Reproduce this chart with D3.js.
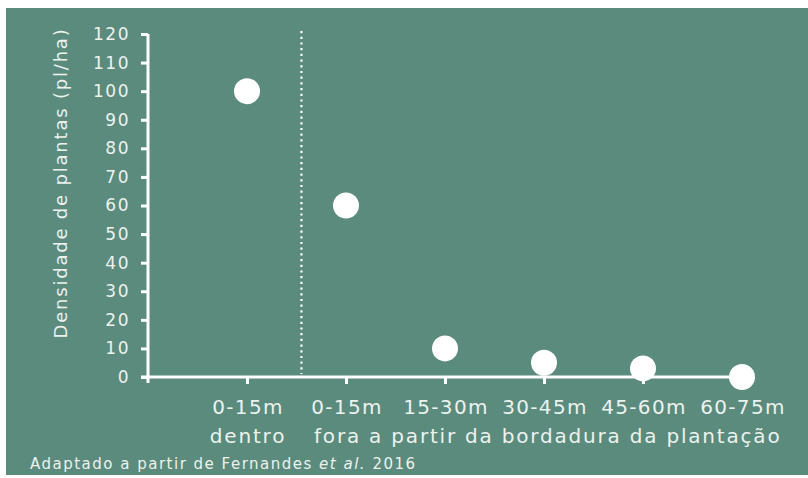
<!DOCTYPE html>
<html><head><meta charset="utf-8">
<script src="https://cdn.jsdelivr.net/npm/d3@7"></script>
<style>
html,body{margin:0;padding:0;background:#fff;}
svg{display:block;}
text{font-family:"DejaVu Sans",sans-serif;fill:#edf2ee;}
</style></head>
<body>
<script>
const categories = ["0-15m","0-15m","15-30m","30-45m","45-60m","60-75m"];
const values = [100, 60, 10, 5, 3, 0];
const yTicks = [0,10,20,30,40,50,60,70,80,90,100,110,120];
const subLabels = ["dentro", "fora a partir da bordadura da plantação"];
const dividerPos = 1.55;
const yTitle = "Densidade de plantas (pl/ha)";

const W = 808, H = 478;
const svg = d3.select("body").append("svg").attr("width", W).attr("height", H);
svg.append("rect").attr("x",6).attr("y",8).attr("width",W-6).attr("height",467).attr("fill","#5a8b7d");

const x = d3.scaleLinear().domain([0, categories.length]).range([148, 742]);
const y = d3.scaleLinear().domain([0, 120]).range([377, 34]);

// y axis
const yAxis = svg.append("g").attr("transform","translate(148,0)")
  .call(d3.axisLeft(y).tickValues(yTicks).tickSize(7).tickPadding(12));
yAxis.select(".domain").attr("stroke","#fff").attr("stroke-width",3).attr("d", `M0,${y(120)}V${y(0)+6}`);
yAxis.selectAll(".tick line").attr("stroke","#fff").attr("stroke-width",3);
yAxis.selectAll(".tick text").attr("font-size",17).attr("font-family","DejaVu Sans")
  .attr("letter-spacing",1.5).attr("dx",1).attr("fill","#edf2ee");

// x axis
const xAxis = svg.append("g").attr("transform",`translate(0,${y(0)})`)
  .call(d3.axisBottom(x).tickValues(d3.range(1, categories.length+1)).tickSize(7).tickFormat(""));
xAxis.select(".domain").attr("stroke","#fff").attr("stroke-width",3).attr("d", `M${148-7},0H${x(categories.length)}`);
xAxis.selectAll(".tick line").attr("stroke","#fff").attr("stroke-width",3);

// category labels
svg.selectAll("text.cat").data(categories).join("text").attr("class","cat")
  .attr("x",(d,i)=>x(i+1)+1).attr("y",414).attr("text-anchor","middle")
  .attr("font-size",20).attr("letter-spacing",1.3).text(d=>d);

svg.append("text").attr("x",x(1)+1).attr("y",443).attr("text-anchor","middle").attr("font-size",20)
  .attr("letter-spacing",1.8).text(subLabels[0]);
svg.append("text").attr("x",x(2)-32).attr("y",443).attr("text-anchor","start").attr("font-size",20)
  .attr("letter-spacing",1.8).text(subLabels[1]);

// divider
svg.append("line").attr("x1",x(dividerPos)).attr("x2",x(dividerPos)).attr("y1",31).attr("y2",y(0)-3)
  .attr("stroke","#fff").attr("stroke-width",2.2).attr("stroke-dasharray","2.2,3.5");

// points
svg.selectAll("circle.pt").data(values).join("circle").attr("class","pt")
  .attr("cx",(d,i)=>x(i+1)).attr("cy",d=>y(d)).attr("r",13).attr("fill","#fff");

// y title
svg.append("text").attr("transform",`translate(67,183) rotate(-90)`).attr("text-anchor","middle")
  .attr("font-size",18).attr("letter-spacing",1.8).text(yTitle);

// footnote
const fn = svg.append("text").attr("x",30).attr("y",469).attr("font-size",15).attr("letter-spacing",1.5);
fn.append("tspan").text("Adaptado a partir de Fernandes ");
fn.append("tspan").attr("font-style","italic").text("et al.");
fn.append("tspan").text(" 2016");
</script>
</body></html>
